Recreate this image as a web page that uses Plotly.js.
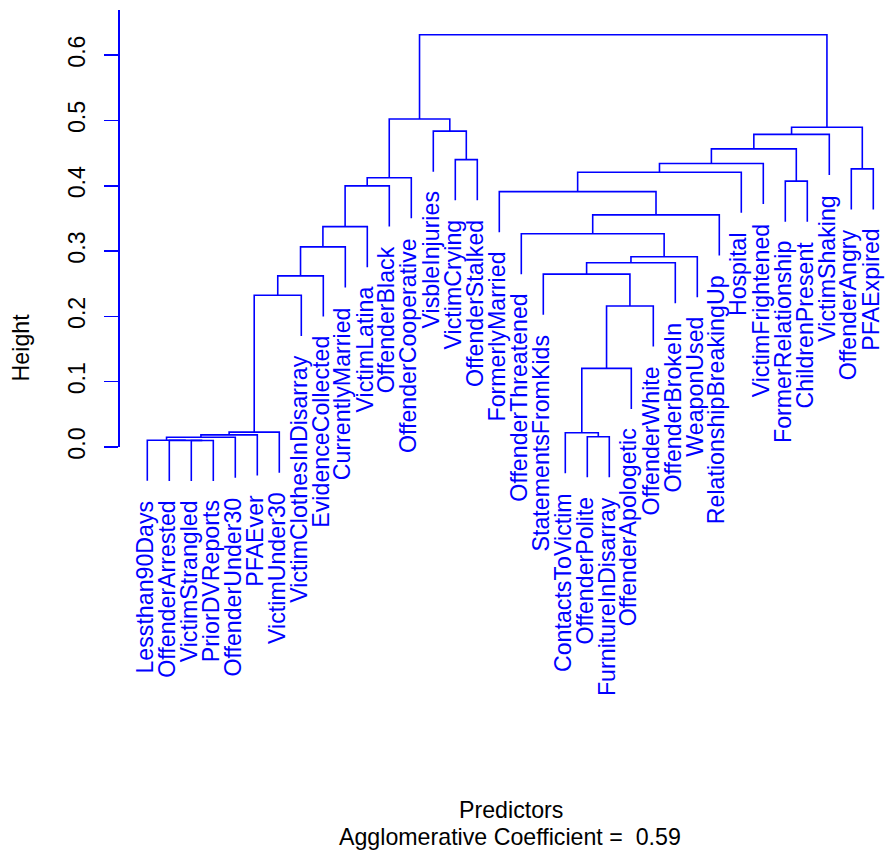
<!DOCTYPE html>
<html><head><meta charset="utf-8">
<script src="https://cdn.plot.ly/plotly-3.0.1.min.js"></script>
<style>html,body{margin:0;padding:0;background:#fff}#chart{width:886px;height:857px}</style>
</head><body><div id="chart"></div>
<script>
// Leaves in display order
const leafLabels = ["Lessthan90Days","OffenderArrested","VictimStrangled","PriorDVReports","OffenderUnder30","PFAEver","VictimUnder30","VictimClothesInDisarray","EvidenceCollected","CurrentlyMarried","VictimLatina","OffenderBlack","OffenderCooperative","VisbleInjuries","VictimCrying","OffenderStalked","FormerlyMarried","OffenderThreatened","StatementsFromKids","ContactsToVictim","OffenderPolite","FurnitureInDisarray","OffenderApologetic","OffenderWhite","OffenderBrokeIn","WeaponUsed","RelationshipBreakingUp","Hospital","VictimFrightened","FormerRelationship","ChildrenPresent","VictimShaking","OffenderAngry","PFAExpired"];
// hclust-style merges: negative = leaf (1-based display index), positive = earlier merge (1-based)
const mergeA = [-3,-2,-1,3,-21,4,6,-20,8,9,7,11,-19,13,14,12,-18,16,17,-17,18,-30,21,20,-33,24,-15,26,28,-14,29,23,32];
const mergeB = [-4,1,2,-5,-22,-6,-7,5,-23,-24,-8,-9,10,-25,-26,-10,15,-11,-27,19,-12,-31,-13,-28,-34,-29,-16,22,-32,27,25,30,31];
const mergeHeight = [0.0100,0.0102,0.0104,0.0150,0.0158,0.0186,0.0228,0.0219,0.1203,0.2158,0.2322,0.2620,0.2647,0.2821,0.2912,0.3064,0.3264,0.3373,0.3554,0.3909,0.3998,0.4070,0.4122,0.4206,0.4258,0.4340,0.4400,0.4564,0.4786,0.4836,0.4896,0.5022,0.6310];
const yTickVals = [0,0.1,0.2,0.3,0.4,0.5,0.6];
const yTickText = ["0.0","0.1","0.2","0.3","0.4","0.5","0.6"];
const yTitle = "Height";
const xTitle = "Predictors";
const subTitle = "Agglomerative Coefficient = \u00a00.59";

const W = 886, H = 857;
const BLUE = "#0000FF";
const FONT = "Liberation Sans, Arial, Helvetica, sans-serif";
const FS = 23.2;

const hMax = Math.max(...mergeHeight), hMin = Math.min(...mergeHeight);
const hang = 0.1 * (hMax - hMin);

// build segments
const nodeX = [], segX = [], segY = [];
const leafEnd = new Array(leafLabels.length).fill(0);
function childPos(c, h) {
  if (c < 0) { const i = -c; leafEnd[i-1] = h - hang; return [i, h - hang]; }
  return [nodeX[c-1], mergeHeight[c-1]];
}
for (let k = 0; k < mergeHeight.length; k++) {
  const h = mergeHeight[k];
  const [xa, ya] = childPos(mergeA[k], h);
  const [xb, yb] = childPos(mergeB[k], h);
  nodeX[k] = (xa + xb) / 2;
  segX.push(xa, xa, xb, xb, null);
  segY.push(ya, h, h, yb, null);
}

// pixel geometry
const axTopPx = 10, axZeroPx = 447, treeBotPx = 560;
const yTop = 0.669;
const pxPerUnit = (axZeroPx - axTopPx) / yTop;
const y2Bottom = yTop - (treeBotPx - axTopPx) / pxPerUnit;

const traces = [
  {type:"scatter", mode:"lines", x:segX, y:segY, xaxis:"x", yaxis:"y2",
   line:{color:BLUE, width:1.6}, hoverinfo:"skip", connectgaps:false},
  {type:"scatter", mode:"markers", x:[1], y:[0], xaxis:"x", yaxis:"y",
   marker:{opacity:0}, hoverinfo:"skip"}
];

const annotations = leafLabels.map((lab, i) => ({
  text: lab, x: i + 1, y: leafEnd[i], xref:"x", yref:"y2",
  textangle:-90, xanchor:"center", yanchor:"top", xshift:-2.5, yshift:-18.5,
  showarrow:false, font:{family:FONT, size:FS, color:BLUE}, borderpad:0
}));
annotations.push(
  {text:yTitle, x:21.9/W, y:1-347.5/H, xref:"paper", yref:"paper", textangle:-90,
   xanchor:"center", yanchor:"middle", showarrow:false, font:{family:FONT,size:FS,color:"#000"}},
  {text:xTitle, x:510.8/W, y:1-810.3/H, xref:"paper", yref:"paper",
   xanchor:"center", yanchor:"middle", showarrow:false, font:{family:FONT,size:FS,color:"#000"}},
  {text:subTitle, x:510.4/W, y:1-837/H, xref:"paper", yref:"paper",
   xanchor:"center", yanchor:"middle", showarrow:false, font:{family:FONT,size:FS,color:"#000"}}
);

const layout = {
  width:W, height:H, margin:{l:0,r:0,t:0,b:0,pad:0},
  paper_bgcolor:"#fff", plot_bgcolor:"#fff", showlegend:false,
  xaxis:{domain:[136.3/W, 884.3/W], range:[0.5, 34.5], visible:false, anchor:"y2", fixedrange:true},
  yaxis:{domain:[1-axZeroPx/H, 1-axTopPx/H], range:[0, yTop], anchor:"free", position:118.3/W,
    showline:true, linecolor:BLUE, linewidth:1.6, ticks:"outside", ticklen:14, tickwidth:1.6, tickcolor:BLUE,
    tickvals:yTickVals, ticktext:yTickText, tickangle:-90, tickfont:{family:FONT,size:FS,color:"#000"},
    showgrid:false, zeroline:false, automargin:false, ticklabelstandoff:10, fixedrange:true},
  yaxis2:{domain:[1-treeBotPx/H, 1-axTopPx/H], range:[y2Bottom, yTop], anchor:"x", visible:false, fixedrange:true},
  annotations: annotations
};
Plotly.newPlot("chart", traces, layout, {staticPlot:true, displayModeBar:false});
</script></body></html>
